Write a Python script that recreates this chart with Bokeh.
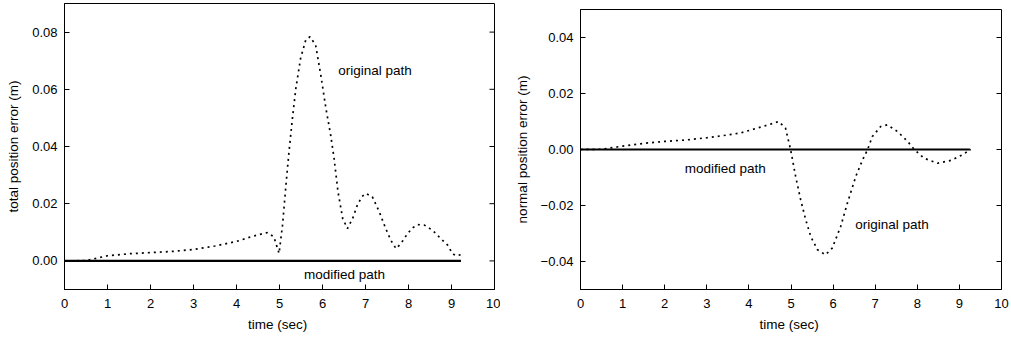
import math
from bokeh.plotting import figure
from bokeh.models import Range1d, FixedTicker
from bokeh.layouts import row
from bokeh.core.properties import value
from bokeh.embed import file_html
from bokeh.resources import INLINE

# ---- data ----
t_total = [0.0, 0.5, 1.0, 1.5, 2.0, 2.5, 3.0, 3.5, 4.0, 4.33, 4.55, 4.72, 4.87, 4.99,
           5.07, 5.15, 5.22, 5.30, 5.38, 5.49, 5.61, 5.71, 5.84, 5.96, 6.08, 6.19, 6.27,
           6.36, 6.47, 6.58, 6.70, 6.81, 6.92, 7.01, 7.16, 7.32, 7.47, 7.59, 7.71, 7.82,
           7.98, 8.10, 8.21, 8.37, 8.56, 8.75, 8.91, 9.02, 9.10, 9.17, 9.22]
e_total = [0.0, 0.0001, 0.0018, 0.0025, 0.0029, 0.0033, 0.0040, 0.0052, 0.0068, 0.0084,
           0.0093, 0.0099, 0.0084, 0.0026, 0.0125, 0.0265, 0.0380, 0.0498, 0.0603, 0.0708,
           0.0772, 0.0784, 0.0755, 0.0650, 0.0533, 0.0440, 0.0358, 0.0242, 0.0148, 0.0113,
           0.0148, 0.0195, 0.0225, 0.0236, 0.0224, 0.0172, 0.0113, 0.0072, 0.0043, 0.0060,
           0.0096, 0.0116, 0.0127, 0.0125, 0.0107, 0.0078, 0.0055, 0.0026, 0.0018, 0.0020,
           0.0022]

t_normal = [0.0, 0.5, 1.0, 1.5, 2.0, 2.5, 3.0, 3.5, 3.8, 4.28, 4.50, 4.71, 4.87, 4.99,
            5.11, 5.23, 5.35, 5.47, 5.63, 5.82, 5.98, 6.18, 6.34, 6.54, 6.70, 6.82, 6.93,
            7.13, 7.29, 7.53, 7.77, 7.93, 8.16, 8.48, 8.80, 9.07, 9.27]
e_normal = [0.0, 0.0001, 0.0012, 0.0022, 0.0029, 0.0034, 0.0042, 0.0052, 0.0059, 0.0080,
            0.0090, 0.0100, 0.0076, 0.0, -0.0096, -0.0180, -0.0251, -0.0311, -0.0358,
            -0.0376, -0.0352, -0.0275, -0.0191, -0.0096, -0.0037, 0.0, 0.0046, 0.0082,
            0.0088, 0.0064, 0.0029, 0.0, -0.0031, -0.0049, -0.0039, -0.0019, 0.0]

t_mod_total = [0.0, 9.22]
e_mod_total = [0.0, 0.0]
t_mod_normal = [0.0, 9.25]
e_mod_normal = [0.0, 0.0]

x_ticks = [0, 1, 2, 3, 4, 5, 6, 7, 8, 9, 10]
x_tick_labels = ["0", "1", "2", "3", "4", "5", "6", "7", "8", "9", "10"]
y_ticks_total = [0.0, 0.02, 0.04, 0.06, 0.08]
y_tick_labels_total = ["0.00", "0.02", "0.04", "0.06", "0.08"]
y_ticks_normal = [-0.04, -0.02, 0.0, 0.02, 0.04]
y_tick_labels_normal = ["\u22120.04", "\u22120.02", "0.00", "0.02", "0.04"]

labels_total = ["original path", "modified path"]
labels_total_x = [7.22, 6.51]
labels_total_y = [0.0664, -0.0047]
labels_normal = ["original path", "modified path"]
labels_normal_x = [7.40, 3.44]
labels_normal_y = [-0.0269, -0.0067]

FONT = "Liberation Sans"
X_MAX = 10


def style(p, yticks, ylabels):
    p.xaxis.ticker = FixedTicker(ticks=x_ticks)
    p.xaxis.major_label_overrides = {t: l for t, l in zip(x_ticks, x_tick_labels)}
    p.yaxis.ticker = FixedTicker(ticks=yticks)
    p.yaxis.major_label_overrides = {t: l for t, l in zip(yticks, ylabels)}
    for ax in [p.xaxis[0], p.yaxis[0]]:
        ax.major_tick_in = 5
        ax.major_tick_out = 0
        ax.minor_tick_line_color = None
        ax.axis_line_color = "black"
        ax.major_tick_line_color = "black"
        ax.major_label_text_font = FONT
        ax.major_label_text_color = "black"
        ax.major_label_text_font_size = "13px"
        ax.axis_label_text_font = FONT
        ax.axis_label_text_font_style = "normal"
        ax.axis_label_text_color = "black"
        ax.axis_label_text_font_size = "13.5px"
    p.xaxis.major_label_standoff = 9
    p.xaxis.axis_label_standoff = 6
    p.yaxis.major_label_standoff = 7
    p.yaxis.axis_label_standoff = 8
    # inward tick marks on the right-hand frame edge
    p.ray(x=[X_MAX] * len(yticks), y=yticks, length=5, length_units="screen",
          angle=math.pi, line_color="black", line_width=1)
    p.xgrid.visible = False
    p.ygrid.visible = False
    p.outline_line_color = "black"
    p.outline_line_alpha = 1
    p.background_fill_color = "white"
    p.border_fill_color = "white"


p1 = figure(width=500, height=336, output_backend="svg", toolbar_location=None,
            x_range=Range1d(0, X_MAX), y_range=Range1d(-0.01, 0.09),
            min_border_left=64, min_border_right=6, min_border_top=3, min_border_bottom=47,
            x_axis_label="time  (sec)", y_axis_label="total position error (m)")
style(p1, y_ticks_total, y_tick_labels_total)
p1.line(t_mod_total, e_mod_total, line_color="black", line_width=2.2)
p1.line(t_total, e_total, line_color="black", line_width=1.7, line_dash="2 4")
p1.text(labels_total_x, labels_total_y, text=labels_total, text_font=value(FONT),
        text_font_size="13.5px", text_align="center", text_baseline="middle", text_color="black")

p2 = figure(width=509, height=330, output_backend="svg", toolbar_location=None,
            x_range=Range1d(0, X_MAX), y_range=Range1d(-0.05, 0.05),
            min_border_left=80, min_border_right=8, min_border_top=3, min_border_bottom=46,
            x_axis_label="time  (sec)", y_axis_label="normal position error (m)",
            margin=(6, 0, 0, 0))
style(p2, y_ticks_normal, y_tick_labels_normal)
p2.line(t_mod_normal, e_mod_normal, line_color="black", line_width=1.8)
p2.line(t_normal, e_normal, line_color="black", line_width=1.7, line_dash="2 4")
p2.text(labels_normal_x, labels_normal_y, text=labels_normal, text_font=value(FONT),
        text_font_size="13.5px", text_align="center", text_baseline="middle", text_color="black")

layout = row(p1, p2)

open("out.html", "w").write(file_html(layout, INLINE))
